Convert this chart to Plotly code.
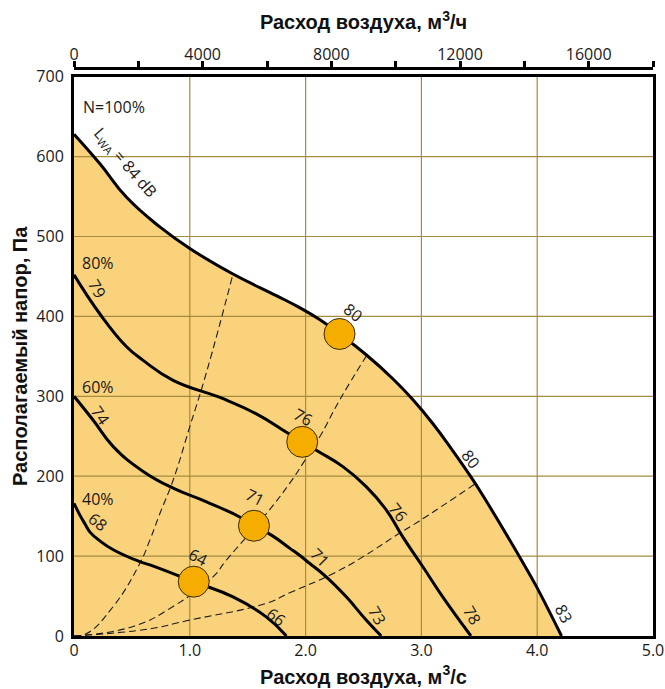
import plotly.graph_objects as go

# Fan curves: air flow (m3/s) vs available pressure (Pa) at several speeds
flow_100 = [0, 0.224, 0.454, 0.741, 1.0, 1.373, 1.747, 1.948, 2.121, 2.293, 2.523, 2.753, 2.925, 3.098, 3.27, 3.442, 3.543, 3.888, 3.989, 4.21]
pres_100 = [628, 591, 549, 512, 485, 453, 426, 411, 396, 378, 352, 322, 296, 266, 232, 196, 173, 89, 63, 0]

flow_80 = [0, 0.224, 0.454, 0.597, 0.856, 1.287, 1.575, 1.834, 1.971, 2.121, 2.322, 2.523, 2.696, 2.839, 3.011, 3.184, 3.428]
pres_80 = [452, 403, 362, 345, 320, 297, 278, 255, 243, 230, 212, 187, 158, 124, 87, 49, 0]

flow_60 = [0, 0.166, 0.339, 0.597, 0.856, 1.144, 1.431, 1.554, 1.718, 1.862, 1.948, 2.034, 2.178, 2.351, 2.523, 2.653]
pres_60 = [300, 270, 237, 206, 185, 168, 149, 138, 125, 110, 101, 91, 74, 49, 20, 0]

flow_40 = [0, 0.052, 0.1, 0.138, 0.224, 0.339, 0.569, 0.655, 1.034, 1.373, 1.66, 1.834]
pres_40 = [166, 151, 139, 130, 119, 108, 93, 89, 68, 49, 24, 0]

# System (duct) characteristics, dashed
sys1_flow = [0, 0.109, 0.339, 0.569, 0.655, 0.741, 0.856, 1.0, 1.144, 1.373]
sys1_pres = [0, 3, 37, 91, 120, 153, 195, 262, 330, 453]
sys2_flow = [0, 0.511, 0.856, 1.2, 1.316, 1.661, 1.862, 1.977, 2.121, 2.293, 2.523]
sys2_pres = [0, 12, 37, 74, 95, 153, 191, 216, 249, 295, 350]
sys3_flow = [0, 0.655, 0.971, 1.661, 1.862, 2.235, 2.494, 2.793, 2.983, 3.46]
sys3_pres = [0, 9, 19, 41, 54, 78, 99, 127, 144, 190]

# Operating points and their sound power levels
op_flow = [1.034, 1.554, 1.971, 2.293]
op_pres = [68, 138, 243, 378]
op_level = ["64", "71", "76", "80"]
op_label_flow = [1.07, 1.56, 1.977, 2.405]
op_label_pres = [99, 174, 274, 405]

# Axis ticks
x_ticks = [0, 1, 2, 3, 4, 5]
x_ticktext = ["0", "1.0", "2.0", "3.0", "4.0", "5.0"]
y_ticks = [0, 100, 200, 300, 400, 500, 600, 700]
top_ticks = list(range(0, 18001, 2000))
top_ticktext = [str(v) if v % 4000 == 0 else "" for v in top_ticks]

FILL = "#F9D27B"
GRID = "#A68D3E"
MARK = "#F5AE00"
INK = "#1a1a1a"
TICK_FONT = dict(family="Open Sans, Noto Sans, sans-serif", size=16, color=INK)
TITLE_FONT = dict(family="Liberation Sans, Arial, sans-serif", size=20, color="#111")
SMOOTH = 1.3

fig = go.Figure()

# Working area under the full-speed curve
fig.add_trace(go.Scatter(
    x=flow_100, y=pres_100, mode="lines", line=dict(width=0, shape="spline", smoothing=SMOOTH),
    fill="tozeroy", fillcolor=FILL, hoverinfo="skip", showlegend=False))

# Grid lines drawn over the shaded area
gx, gy = [], []
for v in x_ticks[1:-1]:
    gx += [v, v, None]
    gy += [y_ticks[0], y_ticks[-1], None]
for v in y_ticks[1:-1]:
    gx += [x_ticks[0], x_ticks[-1], None]
    gy += [v, v, None]
fig.add_trace(go.Scatter(x=gx, y=gy, mode="lines", line=dict(color=GRID, width=1.2),
                         hoverinfo="skip", showlegend=False))

# Dashed system curves
for fx, fy in [(sys1_flow, sys1_pres), (sys2_flow, sys2_pres), (sys3_flow, sys3_pres)]:
    fig.add_trace(go.Scatter(x=fx, y=fy, mode="lines",
                             line=dict(color=INK, width=1.1, dash="7px,4px",
                                       shape="spline", smoothing=SMOOTH),
                             hoverinfo="skip", showlegend=False))

# Fan curves
for fx, fy in [(flow_100, pres_100), (flow_80, pres_80), (flow_60, pres_60), (flow_40, pres_40)]:
    fig.add_trace(go.Scatter(x=fx, y=fy, mode="lines",
                             line=dict(color="black", width=3, shape="spline", smoothing=SMOOTH),
                             hoverinfo="skip", showlegend=False))

# Operating points
fig.add_trace(go.Scatter(x=op_flow, y=op_pres, mode="markers",
                         marker=dict(size=31, color=MARK, line=dict(color="#3a2a00", width=1)),
                         showlegend=False))

# Top axis carrier (m3/h)
fig.add_trace(go.Scatter(x=[top_ticks[0], top_ticks[-1]], y=[None, None], xaxis="x2",
                         mode="lines", showlegend=False, hoverinfo="skip"))

ann_font = dict(family="Open Sans, Noto Sans, sans-serif", size=16, color=INK)

def label(x, y, text, angle=0, xanchor="center"):
    fig.add_annotation(x=x, y=y, text=text, showarrow=False, textangle=angle,
                       xanchor=xanchor, yanchor="middle", font=ann_font)

# Speed labels
label(0.06, 662, "N=100%", xanchor="left")
label(0.052, 467, "80%", xanchor="left")
label(0.052, 312, "60%", xanchor="left")
label(0.052, 172, "40%", xanchor="left")
label(0.44, 592, "L<sub>WA</sub> = 84 dB", 49)

# Sound levels along the curves
label(0.195, 435, "79", 60)
label(0.224, 276, "74", 55)
label(0.21, 143, "68", 38)
label(3.428, 222, "80", 52)
label(2.796, 155, "76", 52)
label(2.12, 99, "71", 45)
label(1.747, 24, "66", 38)
label(2.615, 26, "73", 60)
label(3.437, 26, "78", 60)
label(4.233, 28, "83", 62)

# Operating point levels
op_lab_angle = [27, 27, 29, 38]
for fx, fy, t, a in zip(op_label_flow, op_label_pres, op_level, op_lab_angle):
    label(fx, fy, t, a)

fig.update_layout(
    width=665, height=689,
    margin=dict(l=74, r=12, t=68, b=53, autoexpand=False),
    paper_bgcolor="white", plot_bgcolor="white",
    xaxis=dict(range=[0, 5], tickvals=x_ticks, ticktext=x_ticktext, showgrid=False, zeroline=False,
               showline=True, linewidth=3, linecolor="black", mirror=True, ticks="",
               tickfont=TICK_FONT, ticklabelstandoff=-2, automargin=False,
               title=dict(text="<b>Расход воздуха, м<sup>3</sup>/с</b>", font=TITLE_FONT, standoff=10)),
    yaxis=dict(range=[0, 700], domain=[0, 0.9847], tickvals=y_ticks, showgrid=False, zeroline=False,
               showline=True, linewidth=3, linecolor="black", mirror=True, ticks="",
               tickfont=TICK_FONT, ticklabelstandoff=4, automargin=False,
               title=dict(text="<b>Располагаемый напор, Па</b>", font=TITLE_FONT, standoff=4)),
    xaxis2=dict(range=[0, 18000], overlaying="x", side="top", anchor="free", position=1,
                tickvals=top_ticks, ticktext=top_ticktext, showgrid=False, zeroline=False,
                showline=True, linewidth=3, linecolor="black", ticks="outside", ticklen=6,
                tickwidth=3, tickcolor="black", tickfont=TICK_FONT, automargin=False,
                ticklabelstandoff=-5,
                title=dict(text="<b>Расход воздуха, м<sup>3</sup>/ч</b>", font=TITLE_FONT, standoff=6)),
)

fig.write_html("out.html")
